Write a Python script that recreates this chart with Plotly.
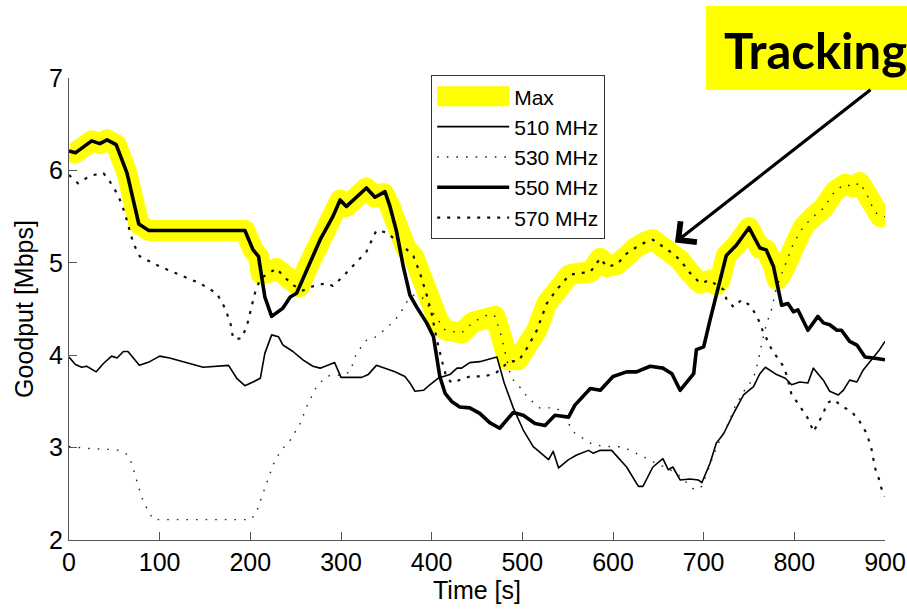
import plotly.graph_objects as go

# ---------------- data ----------------
t_max = [0, 7, 25, 34, 42, 52, 64, 69, 75, 77, 88, 194, 203, 209, 212, 216, 222, 229, 236, 247, 254,
         264, 277, 291, 299, 306, 328, 337.5, 347, 354, 361, 365, 372, 380, 387, 394, 400, 407, 415,
         433, 446, 464, 470, 477, 484, 495, 506, 516, 527, 538, 552, 564, 575, 586, 593, 604, 615,
         626, 637, 644, 655, 666, 674, 685, 696, 707, 714, 718, 725, 736, 750, 762, 769, 777, 781,
         786, 792, 799, 810, 821, 832, 845, 856, 865, 872, 880, 888, 895, 900]
v_max = [6.21, 6.19, 6.32, 6.29, 6.33, 6.28, 5.97, 5.75, 5.50, 5.42, 5.35, 5.35, 5.14, 5.07, 4.88, 4.87,
         4.90, 4.94, 4.86, 4.76, 4.74, 4.97, 5.25, 5.50, 5.68, 5.61, 5.81, 5.71, 5.75, 5.61, 5.35, 5.20,
         5.15, 5.07, 4.89, 4.67, 4.48, 4.38, 4.27, 4.24, 4.36, 4.45, 4.42, 4.20, 3.95, 3.95, 4.09, 4.27,
         4.56, 4.71, 4.87, 4.89, 4.90, 5.05, 4.96, 4.98, 5.10, 5.17, 5.23, 5.25, 5.17, 5.10, 5.03, 4.89,
         4.78, 4.81, 4.76, 4.81, 5.08, 5.19, 5.38, 5.16, 5.14, 4.96, 4.82, 4.88, 5.03, 5.21, 5.39, 5.50,
         5.59, 5.78, 5.85, 5.82, 5.87, 5.74, 5.56, 5.50, 5.50]

t_510 = [0, 7, 14, 19.5, 30, 38, 47, 53, 60, 65, 77.6, 89, 100, 111, 148, 176, 185, 194, 203, 211, 216,
         223.5, 231, 236, 247, 258, 269, 277, 293, 300, 323, 330, 339, 350, 359.5, 370.5, 376, 381.6,
         391, 398, 407, 420, 428, 433, 442, 453, 464, 472, 480, 490, 501, 512, 529, 534, 540, 551, 560,
         573, 578, 586, 598.5, 615, 628, 633, 644, 655, 661, 666, 674, 685, 694, 698, 707, 714, 722,
         733, 744, 755, 762, 768, 780.5, 790, 797, 806, 815, 821, 832, 839, 848.5, 854, 861, 869, 876,
         885, 894, 900]
v_510 = [3.98, 3.90, 3.87, 3.88, 3.82, 3.91, 3.99, 3.97, 4.04, 4.04, 3.89, 3.93, 3.99, 3.97, 3.87, 3.89,
         3.75, 3.67, 3.71, 3.75, 4.02, 4.22, 4.20, 4.11, 4.04, 3.95, 3.88, 3.86, 3.92, 3.76, 3.76, 3.79,
         3.89, 3.85, 3.82, 3.77, 3.70, 3.61, 3.62, 3.68, 3.75, 3.79, 3.86, 3.86, 3.92, 3.93, 3.96, 3.98,
         3.70, 3.43, 3.19, 3.01, 2.87, 2.96, 2.78, 2.87, 2.92, 2.97, 2.94, 2.97, 2.97, 2.79, 2.58, 2.58,
         2.79, 2.88, 2.76, 2.79, 2.65, 2.66, 2.65, 2.62, 2.83, 3.05, 3.15, 3.37, 3.57, 3.66, 3.80, 3.87,
         3.79, 3.75, 3.68, 3.71, 3.70, 3.86, 3.73, 3.61, 3.57, 3.62, 3.73, 3.71, 3.84, 3.95, 4.06, 4.15]

t_530 = [0, 23, 45, 56, 65, 69, 75, 82, 93, 201, 207, 214, 218, 225, 233, 244, 255, 262, 273, 284, 292,
         300, 310, 317, 328, 339, 352, 365, 371, 380, 390, 400, 407, 415, 433, 446, 464, 470, 477, 482,
         487, 492, 501, 505, 519, 538, 549, 556, 578, 597, 610, 621, 637, 648, 663, 674, 690, 698, 714,
         722, 727, 735, 745, 755, 760, 764, 769, 775, 780, 786, 792, 799, 810, 821, 832, 845, 856, 865,
         872, 880, 888, 895, 900]
v_530 = [3.01, 2.99, 2.98, 2.97, 2.92, 2.83, 2.63, 2.41, 2.22, 2.22, 2.31, 2.51, 2.61, 2.81, 2.96, 3.08,
         3.26, 3.44, 3.66, 3.77, 3.79, 3.78, 3.82, 4.02, 4.16, 4.20, 4.31, 4.44, 4.56, 4.65, 4.62, 4.48,
         4.38, 4.27, 4.24, 4.36, 4.45, 4.42, 4.20, 3.98, 3.78, 3.70, 3.62, 3.55, 3.43, 3.43, 3.30, 3.17,
         3.03, 3.01, 3.01, 2.96, 2.88, 2.83, 2.76, 2.69, 2.54, 2.58, 3.00, 3.17, 3.26, 3.45, 3.62, 3.75,
         3.93, 4.12, 4.33, 4.50, 4.72, 4.88, 5.03, 5.21, 5.39, 5.50, 5.59, 5.78, 5.85, 5.82, 5.87, 5.74,
         5.56, 5.50, 5.50]

t_550 = [0, 7, 25, 34, 42, 52, 64, 69, 75, 77, 88, 194, 203, 209, 216, 223.5, 236, 244, 251, 264, 277,
         291, 299, 306, 328, 337.5, 348.5, 354, 361, 368.7, 376, 383.5, 394.5, 402, 405.5, 409, 414.7,
         422, 431, 442, 453, 464, 475, 490, 501, 514, 525, 536, 551, 558, 575, 586, 600, 615, 626, 641,
         655, 665, 674, 683, 689, 692, 700, 707, 718, 725, 736, 750, 762, 769, 777, 786, 793, 799, 804,
         815, 826, 832, 839, 847, 852, 861, 869, 878, 887, 900]
v_550 = [6.21, 6.19, 6.32, 6.29, 6.33, 6.28, 5.97, 5.75, 5.50, 5.42, 5.35, 5.35, 5.14, 5.07, 4.63, 4.42,
         4.51, 4.63, 4.67, 4.97, 5.25, 5.50, 5.68, 5.61, 5.81, 5.71, 5.77, 5.61, 5.35, 4.96, 4.65, 4.52,
         4.35, 4.20, 3.95, 3.77, 3.59, 3.50, 3.44, 3.43, 3.37, 3.27, 3.21, 3.38, 3.35, 3.26, 3.24, 3.35,
         3.33, 3.46, 3.64, 3.62, 3.77, 3.82, 3.82, 3.88, 3.86, 3.80, 3.62, 3.73, 3.80, 4.06, 4.09, 4.38,
         4.81, 5.08, 5.19, 5.38, 5.16, 5.14, 4.96, 4.54, 4.56, 4.47, 4.49, 4.27, 4.42, 4.35, 4.33, 4.27,
         4.27, 4.15, 4.11, 3.98, 3.97, 3.95]

t_570 = [0, 10, 18, 27, 38, 45, 53, 58, 62, 67, 71, 78, 100, 122, 144, 163, 172, 178, 181, 190, 196, 201,
         205, 211, 222, 229, 236, 247, 258, 270, 284, 291, 302, 313, 328, 339, 350, 360, 365, 372, 380,
         387, 394, 400, 405, 411, 416, 422, 431, 442, 457, 470, 477, 485, 496, 506, 516, 527, 538, 552,
         564, 575, 586, 593, 604, 615, 626, 637, 644, 655, 666, 674, 685, 696, 707, 714, 722, 725, 733,
         742, 751, 757, 762, 766, 771, 775, 782, 788, 792, 797, 804, 810, 816, 821, 826, 832, 836, 843,
         854, 863, 871, 880, 885, 889, 893, 896, 900]
v_570 = [5.95, 5.86, 5.91, 5.95, 5.97, 5.88, 5.75, 5.64, 5.52, 5.35, 5.21, 5.07, 4.96, 4.87, 4.78, 4.67,
         4.51, 4.35, 4.18, 4.18, 4.31, 4.51, 4.67, 4.83, 4.90, 4.94, 4.86, 4.76, 4.70, 4.75, 4.78, 4.75,
         4.85, 4.96, 5.12, 5.35, 5.33, 5.25, 5.20, 5.15, 5.07, 4.89, 4.67, 4.45, 4.20, 3.95, 3.77, 3.70,
         3.73, 3.77, 3.77, 3.80, 3.86, 3.93, 3.94, 4.09, 4.27, 4.56, 4.71, 4.87, 4.89, 4.90, 5.05, 4.96,
         4.98, 5.10, 5.17, 5.23, 5.25, 5.17, 5.10, 5.03, 4.89, 4.78, 4.81, 4.76, 4.71, 4.61, 4.52, 4.60,
         4.54, 4.45, 4.35, 4.24, 4.15, 4.06, 3.97, 3.88, 3.77, 3.57, 3.48, 3.39, 3.30, 3.17, 3.26, 3.37,
         3.48, 3.52, 3.44, 3.39, 3.30, 3.15, 2.99, 2.78, 2.67, 2.56, 2.47]

x_ticks = [0, 100, 200, 300, 400, 500, 600, 700, 800, 900]
y_ticks = [2, 3, 4, 5, 6, 7]

FONT = "Liberation Sans, Arial, sans-serif"
YELLOW = "#FFFF00"
MAX_W = 21

fig = go.Figure()
fig.add_trace(go.Scatter(x=t_max, y=v_max, mode="lines", name="Max",
                         line=dict(color=YELLOW, width=MAX_W)))
fig.add_trace(go.Scatter(x=t_510, y=v_510, mode="lines", name="510 MHz",
                         line=dict(color="#000000", width=1.6)))
fig.add_trace(go.Scatter(x=t_530, y=v_530, mode="lines", name="530 MHz",
                         line=dict(color="#222222", width=1.4, dash="1.6px,8px")))
fig.add_trace(go.Scatter(x=t_550, y=v_550, mode="lines", name="550 MHz",
                         line=dict(color="#000000", width=3.6)))
fig.add_trace(go.Scatter(x=t_570, y=v_570, mode="lines", name="570 MHz",
                         line=dict(color="#111111", width=2.2, dash="3px,7px")))

# Tracking call-out
fig.add_shape(type="rect", xref="paper", yref="paper",
              x0=(706 - 69) / 816, x1=(915 - 69) / 816,
              y0=(540 - 90) / 462, y1=(540 - 6) / 462,
              fillcolor=YELLOW, line=dict(width=0), layer="above")
fig.add_annotation(xref="paper", yref="paper", x=(815 - 69) / 816, y=(540 - 50) / 462,
                   text="<b>Tracking</b>", showarrow=False, xanchor="center", yanchor="middle",
                   font=dict(family="Lato, Open Sans, sans-serif", size=49, color="#000000"))
fig.add_annotation(x=668.4, y=5.22, xref="x", yref="y", text="", showarrow=True,
                   ax=197, ay=-154, arrowhead=4, arrowsize=1.6, arrowwidth=3.2,
                   arrowcolor="#000000", standoff=0)

fig.update_layout(
    width=907, height=609,
    margin=dict(l=69, r=22, t=78, b=69),
    paper_bgcolor="white", plot_bgcolor="white",
    font=dict(family=FONT, size=25, color="#000000"),
    showlegend=True,
    legend=dict(x=(431 - 69) / 816, y=(540 - 75) / 462, xanchor="left", yanchor="top",
                bgcolor="white", bordercolor="#333333", borderwidth=1.2,
                font=dict(family=FONT, size=21, color="#000000"),
                itemwidth=72, tracegroupgap=0),
)
fig.update_xaxes(range=[0, 900], tickvals=x_ticks, ticks="inside", ticklen=8, tickcolor="#555555",
                 showline=True, linecolor="#555555", linewidth=1.3, showgrid=False, zeroline=False,
                 title=dict(text="Time [s]", font=dict(size=25), standoff=4),
                 tickfont=dict(size=25), automargin=False)
fig.update_yaxes(range=[2, 7], tickvals=y_ticks, ticks="inside", ticklen=8, tickcolor="#555555",
                 showline=True, linecolor="#555555", linewidth=1.3, showgrid=False, zeroline=False,
                 title=dict(text="Goodput [Mbps]", font=dict(size=25), standoff=8),
                 tickfont=dict(size=25), automargin=False)

# round line joins (as in the original rendering) and a full-height yellow legend swatch
post = """
var gd = document.getElementById('{plot_id}');
function fixStyles(){
  gd.querySelectorAll('.scatterlayer .js-line').forEach(function(p){
    p.style.strokeLinejoin = 'round';
  });
  var items = gd.querySelectorAll('.legend .traces');
  if (items.length) {
    var ln = items[0].querySelector('.js-line');
    if (ln) { ln.style.strokeWidth = '20px'; }
  }
}
fixStyles();
setTimeout(fixStyles, 30);
if (gd.on) { gd.on('plotly_afterplot', fixStyles); }
"""
fig.write_html("out.html", post_script=post)
